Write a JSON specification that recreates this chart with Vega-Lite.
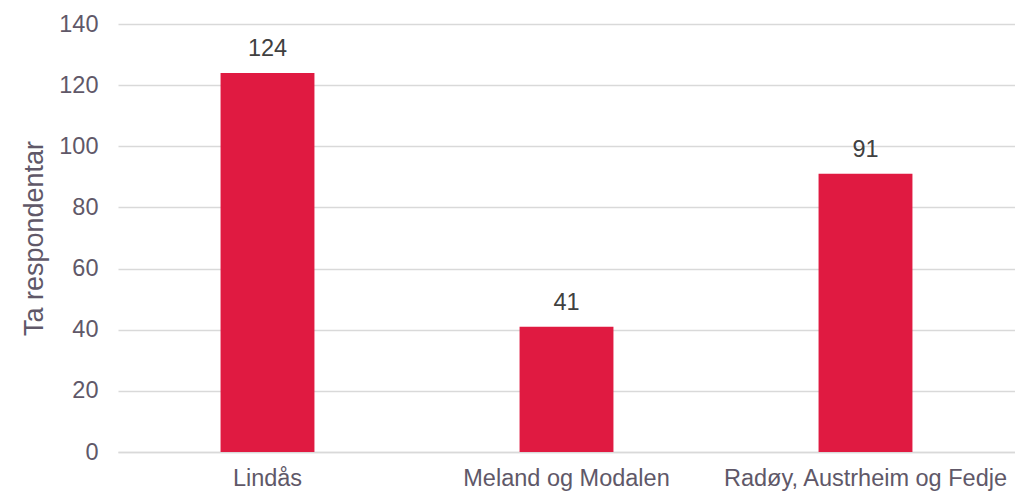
{
  "$schema": "https://vega.github.io/schema/vega-lite/v6.json",
  "autosize": "none",
  "width": 897,
  "height": 428,
  "padding": {"left": 118, "top": 24, "right": 0, "bottom": 39},
  "background": "white",
  "config": {
    "view": {"stroke": null},
    "font": "Liberation Sans"
  },
  "data": {
    "values": [
      {"kommune": "Lindås", "antal": 124},
      {"kommune": "Meland og Modalen", "antal": 41},
      {"kommune": "Radøy, Austrheim og Fedje", "antal": 91}
    ]
  },
  "encoding": {
    "x": {
      "field": "kommune",
      "type": "nominal",
      "sort": null,
      "scale": {"paddingInner": 0.686, "paddingOuter": 0.343},
      "axis": {
        "title": null,
        "labelAngle": 0,
        "labelFont": "Liberation Sans",
        "labelFontSize": 23.5,
        "labelColor": "#605868",
        "labelPadding": 14,
        "labelLimit": 0,
        "labelOverlap": false,
        "ticks": false,
        "domainColor": "#d9d9d9",
        "domainWidth": 1.5,
        "grid": false
      }
    },
    "y": {
      "field": "antal",
      "type": "quantitative",
      "scale": {"domain": [0, 140], "nice": false},
      "axis": {
        "title": "Ta respondentar",
        "titleFont": "Liberation Sans",
        "titleFontSize": 27,
        "titleFontWeight": "normal",
        "titleColor": "#605868",
        "titlePadding": 10,
        "values": [0, 20, 40, 60, 80, 100, 120, 140],
        "labelFont": "Liberation Sans",
        "labelFontSize": 23.5,
        "labelColor": "#605868",
        "labelPadding": 20,
        "ticks": false,
        "domain": false,
        "gridColor": "#d9d9d9",
        "gridWidth": 1.5
      }
    }
  },
  "layer": [
    {"mark": {"type": "bar", "color": "#E01A41"}},
    {
      "mark": {"type": "text", "baseline": "bottom", "dy": -12, "fontSize": 23.5, "color": "#404040", "font": "Liberation Sans"},
      "encoding": {"text": {"field": "antal", "type": "quantitative"}}
    }
  ]
}
